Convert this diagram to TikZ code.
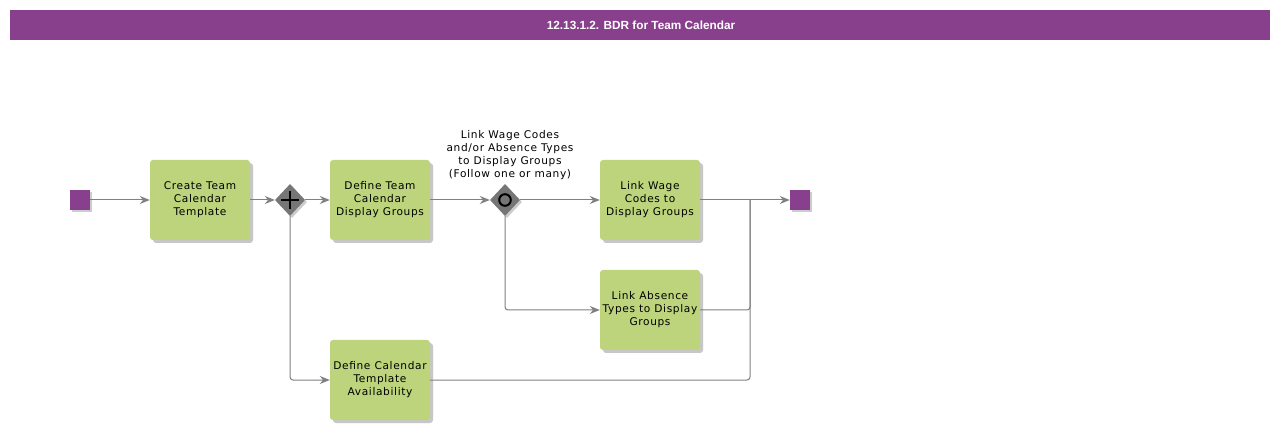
\documentclass[tikz,border=0pt]{standalone}
\usepackage{fontspec}
\setmainfont{DejaVu Sans}
\newfontfamily\taskfont[LetterSpace=6]{DejaVu Sans}
\newfontfamily\titlefont{Liberation Sans}
\usetikzlibrary{shapes.geometric,arrows.meta,calc}
\definecolor{bpurple}{RGB}{136,64,140}
\definecolor{bgreen}{RGB}{189,212,124}
\definecolor{lgrey}{RGB}{128,128,128}
\definecolor{ggrey}{RGB}{118,118,118}
\tikzset{
  task/.style={draw=none,fill=bgreen,rounded corners=3pt,minimum width=100pt,minimum height=80pt,
    align=center,font=\taskfont\fontsize{10.6}{13}\selectfont,inner sep=1pt,
    preaction={fill=black!22,transform canvas={xshift=3pt,yshift=-3pt}}},
  evt/.style={draw=none,fill=bpurple,minimum size=20pt,inner sep=0pt,
    preaction={fill=black!20,transform canvas={xshift=2pt,yshift=-2pt}}},
  gw/.style={diamond,fill=ggrey,minimum width=30pt,minimum height=32pt,inner sep=0pt,
    preaction={fill=black!20,transform canvas={xshift=2pt,yshift=-2pt}}},
  conn/.style={draw=lgrey,line width=1pt,rounded corners=3pt,-{Stealth[length=10pt,width=8pt,fill=lgrey]}},
  plain/.style={draw=lgrey,line width=1pt,rounded corners=3pt}
}
\begin{document}
\begin{tikzpicture}[x=1pt,y=-1pt]
\useasboundingbox[fill=white] (0,0) rectangle (1280,430);
\fill[bpurple] (10,10) rectangle (1270,40);
\node[font=\titlefont\bfseries\fontsize{11.8}{13}\selectfont,text=white] (title) at (641,25) {12.13.1.2. BDR for Team Calendar};

\node[evt] (start) at (80,200) {};
\node[task] (t1) at (200,200) {Create Team\\Calendar\\Template};
\node[gw] (g1) at (290,200) {};
\draw[black,line width=2.4pt] ($(g1)+(-9,0)$) -- ($(g1)+(9,0)$) ($(g1)+(0,-9)$) -- ($(g1)+(0,9)$);
\node[task] (t2) at (380,200) {Define Team\\Calendar\\Display Groups};
\node[gw] (g2) at (505,200) {};
\draw[black,line width=2pt] (g2.center) circle (5.8pt);
\node[font=\taskfont\fontsize{10.6}{13}\selectfont,align=center] (glabel) at (510,155) {Link Wage Codes\\and/or Absence Types\\to Display Groups\\(Follow one or many)};
\node[task] (t3) at (650,200) {Link Wage\\Codes to\\Display Groups};
\node[task] (t4) at (650,310) {Link Absence\\Types to Display\\Groups};
\node[task] (t5) at (380,380) {Define Calendar\\Template\\Availability};
\node[evt] (end) at (800,200) {};
\coordinate (m) at (750,200);

\draw[conn] (start) -- (t1);
\draw[conn] (t1) -- (g1);
\draw[conn] (g1) -- (t2);
\draw[conn] (g1.south) |- (t5.west);
\draw[conn] (t2) -- (g2);
\draw[conn] (g2) -- (t3);
\draw[conn] (g2.south) |- (t4.west);
\draw[conn] (t3) -- (end);
\draw[plain] (t4.east) -| (m);
\draw[plain] (t5.east) -| (m);
\end{tikzpicture}
\end{document}
